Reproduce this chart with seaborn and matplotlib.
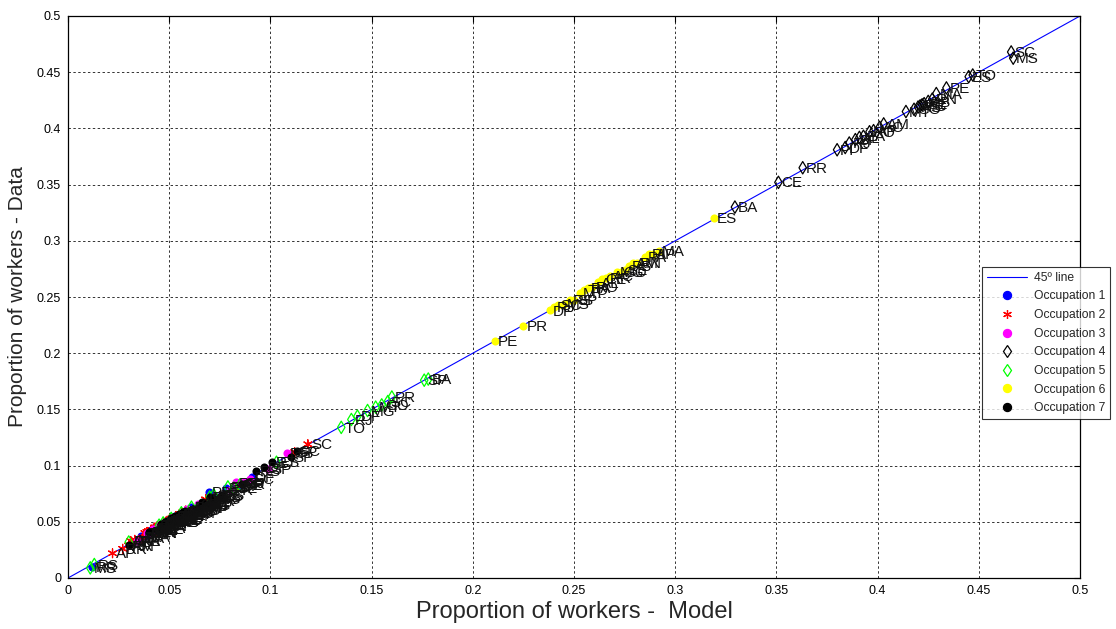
import numpy as np
import pandas as pd
import seaborn as sns
import matplotlib
matplotlib.use("Agg")
from matplotlib import pyplot as plt

# %% Data (model vs data proportion, by state and occupation)
states = ['AC', 'AL', 'AM', 'AP', 'BA', 'CE', 'DF', 'ES', 'GO', 'MA', 'MG', 'MS', 'MT', 'PA',
          'PB', 'PE', 'PI', 'PR', 'RJ', 'RN', 'RO', 'RR', 'RS', 'SC', 'SE', 'SP', 'TO']

occ1_model = [0.055, 0.048, 0.060, 0.041, 0.052, 0.045, 0.091, 0.063, 0.057, 0.038, 0.066, 0.050, 0.059, 0.043,
              0.0695, 0.054, 0.036, 0.072, 0.078, 0.047, 0.061, 0.012, 0.074, 0.068, 0.049, 0.085, 0.053]
occ1_data = [0.053, 0.050, 0.058, 0.043, 0.054, 0.044, 0.090, 0.061, 0.059, 0.037, 0.064, 0.052, 0.057, 0.045,
             0.0765, 0.052, 0.037, 0.070, 0.080, 0.046, 0.063, 0.010, 0.072, 0.066, 0.051, 0.083, 0.055]

occ2_model = [0.041, 0.035, 0.030, 0.022, 0.047, 0.039, 0.084, 0.062, 0.058, 0.033, 0.055, 0.052, 0.050, 0.037,
              0.044, 0.046, 0.031, 0.071, 0.068, 0.042, 0.049, 0.027, 0.075, 0.1185, 0.043, 0.112, 0.038]
occ2_data = [0.043, 0.033, 0.029, 0.022, 0.045, 0.041, 0.082, 0.060, 0.060, 0.034, 0.057, 0.050, 0.052, 0.036,
             0.046, 0.044, 0.033, 0.069, 0.070, 0.040, 0.051, 0.026, 0.073, 0.119, 0.045, 0.112, 0.040]

occ3_model = [0.050, 0.044, 0.057, 0.039, 0.053, 0.046, 0.108, 0.070, 0.064, 0.041, 0.067, 0.059, 0.061, 0.048,
              0.051, 0.055, 0.042, 0.080, 0.087, 0.047, 0.058, 0.034, 0.083, 0.090, 0.052, 0.099, 0.045]
occ3_data = [0.052, 0.043, 0.055, 0.040, 0.051, 0.048, 0.111, 0.068, 0.066, 0.040, 0.065, 0.061, 0.059, 0.050,
             0.053, 0.053, 0.044, 0.078, 0.085, 0.049, 0.060, 0.033, 0.085, 0.088, 0.054, 0.097, 0.047]

occ4_model = [0.401, 0.391, 0.403, 0.398, 0.3295, 0.351, 0.384, 0.445, 0.418, 0.429, 0.421, 0.467, 0.414, 0.393,
              0.425, 0.434, 0.380, 0.422, 0.386, 0.427, 0.396, 0.363, 0.420, 0.466, 0.423, 0.389, 0.447]
occ4_data = [0.401, 0.392, 0.404, 0.398, 0.330, 0.352, 0.383, 0.446, 0.417, 0.431, 0.420, 0.4625, 0.415, 0.393,
             0.424, 0.436, 0.381, 0.421, 0.387, 0.426, 0.397, 0.365, 0.419, 0.468, 0.422, 0.390, 0.4475]

occ5_model = [0.045, 0.058, 0.066, 0.030, 0.178, 0.072, 0.143, 0.103, 0.155, 0.061, 0.148, 0.011, 0.152, 0.051,
              0.079, 0.085, 0.056, 0.160, 0.140, 0.064, 0.070, 0.047, 0.013, 0.158, 0.082, 0.176, 0.135]
occ5_data = [0.047, 0.056, 0.064, 0.032, 0.177, 0.074, 0.144, 0.103, 0.154, 0.063, 0.149, 0.009, 0.152, 0.053,
             0.081, 0.083, 0.058, 0.161, 0.141, 0.062, 0.072, 0.049, 0.012, 0.157, 0.080, 0.176, 0.134]

occ6_model = [0.268, 0.262, 0.279, 0.289, 0.257, 0.264, 0.238, 0.319, 0.273, 0.292, 0.271, 0.245, 0.253, 0.285,
              0.277, 0.211, 0.287, 0.225, 0.240, 0.281, 0.259, 0.266, 0.248, 0.242, 0.275, 0.250, 0.255]
occ6_data = [0.269, 0.263, 0.280, 0.288, 0.258, 0.266, 0.238, 0.320, 0.272, 0.291, 0.272, 0.244, 0.254, 0.286,
             0.278, 0.211, 0.288, 0.224, 0.241, 0.280, 0.259, 0.267, 0.247, 0.243, 0.274, 0.247, 0.256]

occ7_model = [0.060, 0.053, 0.064, 0.046, 0.057, 0.052, 0.097, 0.076, 0.070, 0.040, 0.072, 0.066, 0.068, 0.049,
              0.056, 0.058, 0.044, 0.086, 0.101, 0.051, 0.063, 0.030, 0.093, 0.113, 0.055, 0.110, 0.048]
occ7_data = [0.058, 0.055, 0.062, 0.048, 0.059, 0.050, 0.099, 0.074, 0.072, 0.041, 0.070, 0.068, 0.066, 0.051,
             0.054, 0.060, 0.043, 0.084, 0.103, 0.053, 0.061, 0.029, 0.095, 0.113, 0.057, 0.108, 0.050]

occ_names = ['Occupation 1', 'Occupation 2', 'Occupation 3', 'Occupation 4',
             'Occupation 5', 'Occupation 6', 'Occupation 7']
diag = [0, 0.5]
ticks = [0, 0.05, 0.1, 0.15, 0.2, 0.25, 0.3, 0.35, 0.4, 0.45, 0.5]
tick_labels = ['0', '0.05', '0.1', '0.15', '0.2', '0.25', '0.3', '0.35', '0.4', '0.45', '0.5']

models = [occ1_model, occ2_model, occ3_model, occ4_model, occ5_model, occ6_model, occ7_model]
datas = [occ1_data, occ2_data, occ3_data, occ4_data, occ5_data, occ6_data, occ7_data]

rows = []
for name, m, d in zip(occ_names, models, datas):
    for st, mv, dv in zip(states, m, d):
        rows.append((name, st, mv, dv))
df = pd.DataFrame(rows, columns=['occupation', 'state', 'model', 'data'])

# marker styles per occupation: (marker, colour, size, filled)
styles = {
    'Occupation 1': ('o', 'blue', 34, True),
    'Occupation 2': ((6, 2, 0), 'red', 40, False),
    'Occupation 3': ('o', 'magenta', 34, True),
    'Occupation 4': ('d', 'black', 40, False),
    'Occupation 5': ('d', 'lime', 40, False),
    'Occupation 6': ('o', 'yellow', 34, True),
    'Occupation 7': ('o', 'black', 34, True),
}

# %% Plot
sns.set_style('white')
plt.rcParams['font.family'] = ['Liberation Sans', 'DejaVu Sans']

fig = plt.figure(figsize=(11.16, 6.29), dpi=100)
ax = fig.add_axes([68 / 1116, 51 / 629, 1012 / 1116, 562 / 629])

sns.lineplot(x=diag, y=diag, ax=ax, color='blue', linewidth=0.8, label='45º line', zorder=1)

handles = [ax.lines[0]]
for name in occ_names:
    mk, col, sz, filled = styles[name]
    sub = df[df.occupation == name]
    sns.scatterplot(data=sub, x='model', y='data', ax=ax, marker=mk, s=sz,
                    color=col, linewidth=0 if filled else 0.9, zorder=2, legend=False)
    coll = ax.collections[-1]
    if filled:
        coll.set_facecolor(col)
        coll.set_edgecolor(col)
    else:
        coll.set_facecolor('none')
        coll.set_edgecolor(col)
        coll.set_linewidth(0.9)
    h = plt.Line2D([], [], linestyle='none', marker=mk, color=col,
                   markerfacecolor=col if filled else 'none', markeredgecolor=col,
                   markersize=np.sqrt(sz), markeredgewidth=0.9)
    handles.append(h)

for _, r in df.iterrows():
    ax.text(r['model'] + 0.0015, r['data'] - 0.001, r['state'], fontsize=11,
            ha='left', va='center', color='#111111', zorder=3)

ax.set_xlim(0, 0.5)
ax.set_ylim(0, 0.5)
ax.set_xticks(ticks)
ax.set_xticklabels(tick_labels)
ax.set_yticks(ticks)
ax.set_yticklabels(tick_labels)
ax.tick_params(direction='in', top=True, right=True, length=4, width=0.8,
               labelsize=9, colors='black', pad=5)
ax.grid(True, color='black', linestyle=(0, (2.5, 2.5)), linewidth=0.7, alpha=0.8)
for sp in ax.spines.values():
    sp.set_color('black')
    sp.set_linewidth(0.9)

ax.set_xlabel('Proportion of workers -  Model', fontsize=17, labelpad=3)
ax.set_ylabel('Proportion of workers - Data', fontsize=15, labelpad=7)

leg = ax.legend(handles=handles, labels=['45º line'] + occ_names, loc='upper left',
                bbox_to_anchor=(982 / 1116, 1 - 267 / 629), bbox_transform=fig.transFigure,
                fontsize=8.7, frameon=True, fancybox=False, borderaxespad=0,
                handlelength=3.3, handletextpad=0.6, labelspacing=0.55, borderpad=0.4)
leg.get_frame().set_edgecolor('black')
leg.get_frame().set_linewidth(0.8)
leg.set_zorder(10)

fig.savefig('out.png', dpi=100)
